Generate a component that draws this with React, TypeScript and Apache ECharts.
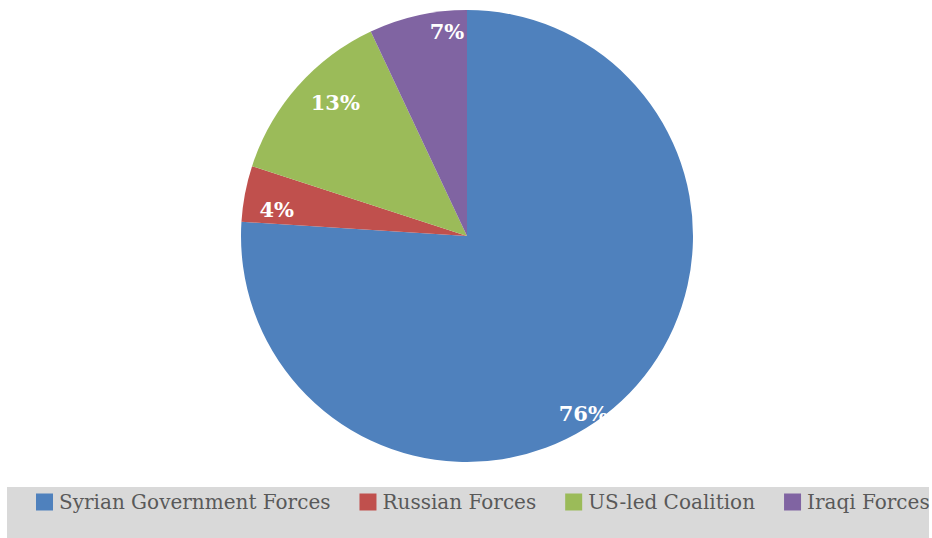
import React, { useEffect, useRef } from "react";
import * as echarts from "echarts";

const categories = ["Syrian Government Forces", "Russian Forces", "US-led Coalition", "Iraqi Forces"];
const values = [76, 4, 13, 7];
const colors = ["#4F81BD", "#C0504D", "#9BBB59", "#8064A2"];
// label placement tweaks (radius fraction, angle shift in degrees)
const labelRadius = [0.94, 0.85, 0.83, 0.91];
const labelAngleShift = [10, -3, 4, 7];

const CX = 467;
const CY = 236;
const R = 226;

export default function App() {
  const ref = useRef<HTMLDivElement>(null);
  useEffect(() => {
    if (!ref.current) return;
    const chart = echarts.init(ref.current, undefined, { renderer: "svg" });
    const total = values.reduce((a, b) => a + b, 0);
    const mids: number[] = [];
    let acc = 0;
    values.forEach((v) => {
      mids.push(((acc + v / 2) / total) * 360);
      acc += v;
    });
    chart.setOption({
      animation: false,
      color: colors,
      graphic: [
        {
          type: "rect",
          shape: { x: 7, y: 487, width: 922, height: 51 },
          style: { fill: "#D9D9D9" },
          z: -10,
        },
      ],
      legend: {
        left: 36,
        top: 492,
        width: 900,
        padding: 0,
        icon: "rect",
        itemWidth: 17,
        itemHeight: 17,
        itemGap: 29,
        data: categories,
        textStyle: {
          color: "#595959",
          fontFamily: "DejaVu Serif",
          fontSize: 20,
          lineHeight: 20,
          padding: [0, 0, 0, 1],
        },
      },
      series: [
        {
          type: "pie",
          center: [CX, CY],
          radius: R,
          startAngle: 90,
          clockwise: true,
          silent: true,
          data: categories.map((name, i) => ({ name, value: values[i] })),
          label: {
            show: true,
            position: "inside",
            formatter: "{d}%",
            color: "#FFFFFF",
            fontFamily: "DejaVu Serif",
            fontWeight: "bold",
            fontSize: 21,
          },
          labelLine: { show: false },
          labelLayout: (params: any) => {
            const i = params.dataIndex;
            const a = ((mids[i] + labelAngleShift[i]) * Math.PI) / 180;
            const r = R * labelRadius[i];
            return {
              x: CX + r * Math.sin(a),
              y: CY - r * Math.cos(a),
              align: "center",
              verticalAlign: "middle",
            };
          },
        },
      ],
    });
    return () => chart.dispose();
  }, []);
  return (
    <div
      ref={ref}
      style={{ position: "fixed", left: 0, top: 0, width: 932, height: 538, background: "#FFFFFF" }}
    />
  );
}
